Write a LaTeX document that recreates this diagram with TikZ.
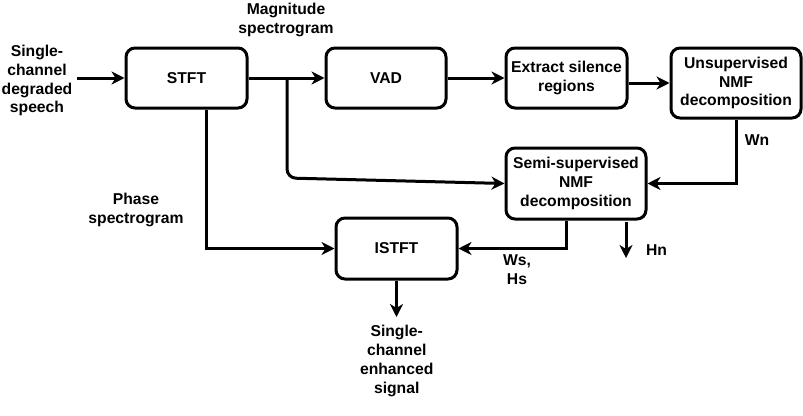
\documentclass[tikz,border=0pt]{standalone}
\usepackage{fontspec}
\setmainfont{Liberation Sans}
\usetikzlibrary{arrows.meta,calc}
\begin{document}
\begin{tikzpicture}[x=1pt,y=-1pt,
  txt/.style={font=\bfseries\fontsize{15.7}{18.9}\selectfont, align=center, inner sep=0pt},
  blk/.style={txt, draw, line width=3pt, rounded corners=9pt},
  arr/.style={line width=3pt, -{Stealth[length=13pt,width=13pt,inset=4pt]}}]
\useasboundingbox (0,0) rectangle (803,415);
% blocks
\node[blk, minimum width=121, minimum height=60] (stft) at (186.5,78) {STFT};
\node[blk, minimum width=120, minimum height=60] (vad) at (386,78) {VAD};
\node[blk, minimum width=121, minimum height=60] (ext) at (566.5,78) {Extract silence\\regions};
\node[blk, minimum width=130, minimum height=70] (uns) at (736,83) {Unsupervised\\NMF\\decomposition};
\node[blk, minimum width=140, minimum height=71] (semi) at (576,183.5) {Semi-supervised\\NMF\\decomposition};
\node[blk, minimum width=121, minimum height=61] (istft) at (396.5,248.5) {ISTFT};
% labels
\node[txt] (lin) at (37,80.5) {Single-\\channel\\degraded\\speech};
\node[txt] (lmag) at (286,20) {Magnitude\\spectrogram};
\node[txt] (lph) at (136,210) {Phase\\spectrogram};
\node[txt] (lwn) at (757,140.5) {Wn};
\node[txt] (lws) at (517,270) {Ws,\\Hs};
\node[txt] (lhn) at (656.5,250) {Hn};
\node[txt] (lout) at (396.7,360.7) {Single-\\channel\\enhanced\\signal};
% coordinates
\coordinate (inS) at (77,78);
\coordinate (br) at (287,78);
\coordinate (brc) at (287,178);
\coordinate (hnA) at (626,222);
\coordinate (hnB) at (626,258);
\coordinate (outE) at (396.5,317);
% connectors
\draw[arr] (inS) -- (stft.west);
\draw[arr] (stft.east) -- (vad.west);
\draw[arr] (vad.east) -- (ext.west);
\draw[arr] (ext.east |- uns.west) -- (uns.west);
\draw[arr] (uns.south) |- (semi.east);
\draw[arr, rounded corners=9pt] (br) -- (brc) -- (semi.west);
\draw[arr] ([xshift=19.5pt]stft.south) |- (istft.west);
\draw[arr] ([xshift=-10pt]semi.south) |- (istft.east);
\draw[arr] (hnA) -- (hnB);
\draw[arr] (istft.south) -- (outE);
\end{tikzpicture}
\end{document}
